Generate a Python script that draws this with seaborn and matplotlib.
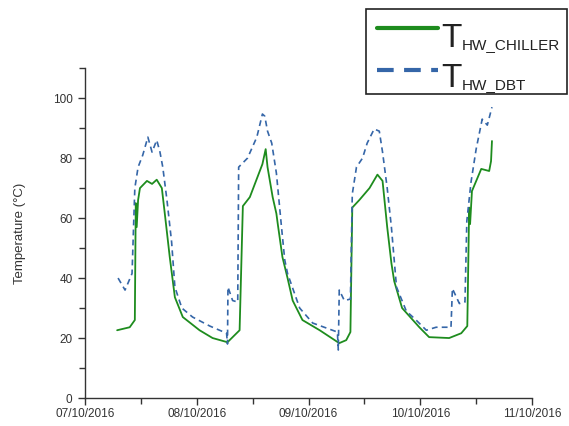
import numpy as np
import pandas as pd
import matplotlib
matplotlib.use("Agg")
import matplotlib.pyplot as plt
import matplotlib.dates as mdates
from matplotlib.lines import Line2D
from matplotlib.patches import Rectangle
import seaborn as sns

# ---- data (hours after 07/10/2016 00:00, temperature in degC) ----
chiller_h = [6.9, 9.6, 10.7, 10.9, 11.1, 11.4, 11.8, 13.3, 14.4, 15.4,
             16.5, 17.1, 18.2, 19.3, 21.0, 24.6, 27.4, 30.6, 33.2, 33.9,
             35.4, 38.1, 38.8, 39.2, 40.3, 41.1, 41.4, 42.4, 43.5, 44.6,
             46.7, 50.4, 54.6, 56.1, 57.0, 57.4, 58.9, 61.1, 62.8, 63.9,
             64.9, 65.8, 66.4, 68.1, 71.8, 73.9, 78.2, 80.8, 82.1, 82.5,
             82.7, 83.1, 85.1, 86.8, 87.2, 87.4]
chiller_v = [22.6, 23.6, 26, 65, 57, 66, 70, 72.4, 71.4, 72.8,
             70, 62, 47, 33.6, 27, 22.6, 20, 18.6, 22.6, 64,
             67, 78, 83, 77, 67, 61.5, 58, 47, 40, 32.5,
             26, 22.6, 18.3, 19.3, 22, 63.5, 66, 70, 74.5, 72.4,
             57, 45, 39, 30, 23.6, 20.3, 20, 21.6, 24, 63.5,
             58, 69, 76.4, 75.7, 79, 85.7]

dbt_h = [7.1, 8.6, 10.1, 10.7, 11.4, 12.4, 13.5, 14.4, 15.4, 16.1,
         16.7, 17.6, 18.6, 19.3, 20.8, 23.1, 26.8, 30.4, 30.6, 30.7,
         31.7, 32.8, 33.0, 34.9, 36.9, 38.1, 38.6, 39.2, 40.1, 41.1,
         42.2, 42.9, 43.5, 46.1, 48.9, 54.2, 54.4, 54.6, 55.7, 57.0,
         57.4, 58.3, 59.6, 60.6, 62.1, 63.2, 63.9, 64.9, 65.8, 66.9,
         69.0, 71.1, 73.3, 75.4, 78.2, 78.6, 78.9, 80.4, 81.6, 82.0,
         82.9, 84.0, 85.3, 86.4, 87.4]
dbt_v = [40, 36, 41.5, 70, 77, 81, 87, 82, 86, 82,
         77, 66, 52, 37, 30, 27, 24, 21.6, 18, 37,
         32.5, 32, 77, 80, 87, 94.7, 94, 89, 85, 75,
         57, 46, 41.5, 30, 25, 22, 16, 36, 32.5, 33,
         68, 77, 80, 85, 89.7, 89, 82, 70, 57, 37,
         29, 26, 22.6, 23.6, 23.6, 23.5, 36.5, 31.5, 32, 59,
         72, 83, 93, 91, 97]

start = pd.Timestamp("2016-10-07")
end = pd.Timestamp("2016-10-11")
y_ticks = [0, 20, 40, 60, 80, 100]

df_ch = pd.DataFrame({"time": start + pd.to_timedelta(chiller_h, unit="h"),
                      "temp": chiller_v})
df_dbt = pd.DataFrame({"time": start + pd.to_timedelta(dbt_h, unit="h"),
                       "temp": dbt_v})

sns.set_theme(style="ticks")
plt.rcParams["font.family"] = ["Liberation Sans", "DejaVu Sans"]

GREEN = "#1e8c1e"
BLUE = "#3566a8"
TXT = "#333333"

fig = plt.figure(figsize=(5.69, 4.26), dpi=100)
ax = fig.add_axes([0.1494, 0.0657, 0.7856, 0.7743])

sns.lineplot(data=df_ch, x="time", y="temp", ax=ax, color=GREEN, lw=1.3,
             estimator=None, sort=False)
sns.lineplot(data=df_dbt, x="time", y="temp", ax=ax, color=BLUE, lw=1.2,
             estimator=None, sort=False, linestyle=(0, (3.5, 2.5)))

ax.set_xlim(start, end)
ax.set_ylim(0, 110)
ax.set_yticks(y_ticks)
ax.yaxis.set_minor_locator(matplotlib.ticker.MultipleLocator(10))
ax.xaxis.set_major_locator(mdates.DayLocator())
ax.xaxis.set_minor_locator(mdates.HourLocator(byhour=[12]))
ax.xaxis.set_major_formatter(mdates.DateFormatter("%d/%m/%Y"))

ax.set_xlabel("")
ax.set_ylabel("Temperature (\u00b0C)", fontsize=9.5, color=TXT, labelpad=19)
ax.tick_params(axis="both", which="major", labelsize=8.5, length=5, width=1,
               colors=TXT, direction="out", pad=2)
ax.tick_params(axis="y", which="major", pad=4)
ax.tick_params(axis="both", which="minor", length=4, width=1, colors=TXT,
               direction="out")
for s in ["top", "right"]:
    ax.spines[s].set_visible(False)
for s in ["left", "bottom"]:
    ax.spines[s].set_color(TXT)
    ax.spines[s].set_linewidth(1)

# ---- legend drawn in figure pixel coordinates ----
W, H = 569.0, 426.0
def fx(px):
    return px / W
def fy(py):
    return 1 - py / H

fig.add_artist(Rectangle((fx(366), fy(94)), fx(567) - fx(366), fy(9) - fy(94),
                         transform=fig.transFigure, facecolor="white",
                         edgecolor="#222222", lw=1.2, zorder=5))
fig.add_artist(Line2D([fx(377), fx(438)], [fy(28), fy(28)],
                      transform=fig.transFigure, color=GREEN, lw=3, zorder=6))
fig.add_artist(Line2D([fx(377), fx(438)], [fy(70), fy(70)],
                      transform=fig.transFigure, color=BLUE, lw=3,
                      linestyle=(0, (4, 2.5)), zorder=6))
fig.text(fx(441), fy(47), "T", fontsize=24, color="#222222", ha="left",
         va="baseline", zorder=7)
fig.text(fx(462), fy(49), "HW_CHILLER", fontsize=11, color="#222222",
         ha="left", va="baseline", zorder=7)
fig.text(fx(441), fy(87), "T", fontsize=24, color="#222222", ha="left",
         va="baseline", zorder=7)
fig.text(fx(462), fy(89), "HW_DBT", fontsize=11, color="#222222",
         ha="left", va="baseline", zorder=7)

fig.savefig("out.png", dpi=100)
